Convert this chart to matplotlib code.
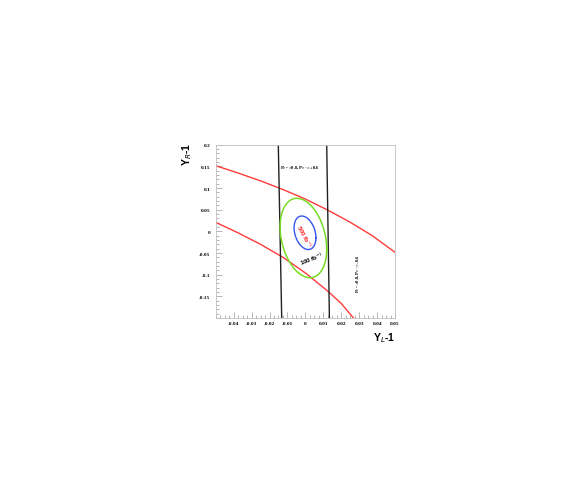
import numpy as np
import matplotlib.pyplot as plt
from matplotlib.ticker import MultipleLocator, FixedLocator

# red curves, points (Y_L-1, Y_R-1)
upper_x = [-0.05, -0.0375, -0.025, -0.0125, 0.0, 0.0125, 0.025, 0.0375, 0.05]
upper_y = [0.1515, 0.1346, 0.1165, 0.0965, 0.0746, 0.049, 0.021, -0.0105, -0.0485]
lower_x = [-0.05, -0.0375, -0.025, -0.0125, 0.0, 0.0125, 0.02, 0.0268]
lower_y = [0.0208, -0.0035, -0.030, -0.060, -0.096, -0.138, -0.1665, -0.2]

# black (nearly vertical) lines: x at top (y=0.2) and bottom (y=-0.2)
vlines_top = [-0.0151, 0.0119]
vlines_bot = [-0.0132, 0.0134]
vline_y = [0.2, -0.2]

# contours: centre x, centre y, half-width x, half-height y, correlation
green_ell = [-0.0011, -0.0154, 0.0130, 0.0917, -0.28]
blue_ell = [-0.0002, -0.0033, 0.0061, 0.0387, -0.30]

xticks = [-0.04, -0.03, -0.02, -0.01, 0, 0.01, 0.02, 0.03, 0.04, 0.05]
xlabels = ['-0.04', '-0.03', '-0.02', '-0.01', '0', '0.01', '0.02', '0.03', '0.04', '0.05']
yticks = [-0.15, -0.1, -0.05, 0, 0.05, 0.1, 0.15, 0.2]
ylabels = ['-0.15', '-0.1', '-0.05', '0', '0.05', '0.1', '0.15', '0.2']


def ellipse(p):
    cx, cy, sx, sy, rho = p
    t = np.linspace(0, 2 * np.pi, 200)
    x = cx + sx * np.cos(t)
    y = cy + sy * (rho * np.cos(t) + np.sqrt(1 - rho ** 2) * np.sin(t))
    return x, y


fig = plt.figure(figsize=(5.81, 4.85), dpi=100)
ax = fig.add_axes([0.3713, 0.3423, 0.3086, 0.3573])

ax.plot(upper_x, upper_y, color='#ff3b3b', lw=1.0)
ax.plot(lower_x, lower_y, color='#ff3b3b', lw=1.0)
for xt, xb in zip(vlines_top, vlines_bot):
    ax.plot([xt, xb], vline_y, color='#222222', lw=1.0)

gx, gy = ellipse(green_ell)
ax.plot(gx, gy, color='#77dd22', lw=1.1)
bx, by = ellipse(blue_ell)
ax.plot(bx, by, color='#3355ee', lw=1.0)

ax.text(-0.0005, -0.011, '500 fb$^{-1}$', color='#ff2020', fontsize=4.3,
        fontweight='bold', rotation=-62, ha='center', va='center',
        family='Liberation Sans')
ax.text(0.0037, -0.0626, '100 fb$^{-1}$', color='black', fontsize=4.3,
        fontweight='bold', rotation=21, ha='center', va='center',
        family='Liberation Sans')
ax.text(-0.0033, 0.1485, 'P$_{e^-}$=0.8, P$_{e^+}$=+0.6', fontsize=3.3,
        fontweight='bold', ha='center', va='center', family='Liberation Serif')
ax.text(0.0295, -0.096, 'P$_{e^-}$=0.8, P$_{e^+}$=-0.6', fontsize=3.3,
        fontweight='bold', rotation=90, ha='center', va='center',
        family='Liberation Serif')

ax.set_xlim(-0.05, 0.05)
ax.set_ylim(-0.2, 0.2)
ax.xaxis.set_major_locator(FixedLocator(xticks))
ax.set_xticklabels(xlabels)
ax.yaxis.set_major_locator(FixedLocator(yticks))
ax.set_yticklabels(ylabels)
ax.xaxis.set_minor_locator(MultipleLocator(0.0025))
ax.yaxis.set_minor_locator(MultipleLocator(0.01))
ax.tick_params(which='both', direction='in', color='#999999', width=0.5,
               top=False, right=False)
ax.tick_params(which='major', length=4)
ax.tick_params(which='minor', length=2)
ax.tick_params(axis='y', pad=4)
ax.tick_params(axis='x', pad=2.5)
for lab in ax.get_xticklabels() + ax.get_yticklabels():
    lab.set_fontsize(3.8)
    lab.set_fontweight('bold')
    lab.set_family('Liberation Serif')
for s in ax.spines.values():
    s.set_color('#c0c0c0')
    s.set_linewidth(0.6)

fig.text(0.6799, 0.303, 'Y$_{L}$-1', fontsize=7.5, fontweight='bold',
         ha='right', va='center', family='Liberation Sans')
fig.text(0.322, 0.705, 'Y$_{R}$-1', fontsize=7.5, fontweight='bold',
         rotation=90, ha='center', va='top', family='Liberation Sans')

fig.savefig('out.png', dpi=100)
